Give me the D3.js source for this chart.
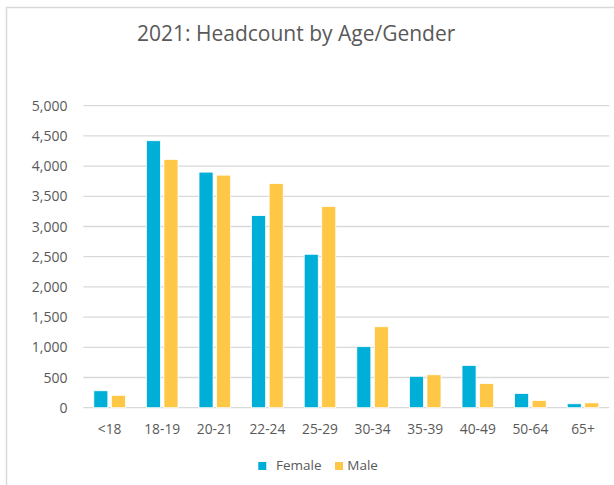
<!DOCTYPE html>
<html>
<head>
<meta charset="utf-8">
<script src="https://cdn.jsdelivr.net/npm/d3@7"></script>
<style>
    body { margin: 0; background: #fff; }
    svg text { font-family: "Open Sans", sans-serif; fill: #595959; }
</style>
</head>
<body>
<svg id="chart" width="614" height="485"></svg>
<script>
// Chart data
const ageGroups = ['<18', '18-19', '20-21', '22-24', '25-29', '30-34', '35-39', '40-49', '50-64', '65+'];
const seriesNames = ['Female', 'Male'];
const femaleCounts = [280, 4420, 3900, 3180, 2540, 1010, 520, 700, 235, 65];
const maleCounts = [205, 4110, 3850, 3710, 3330, 1340, 545, 400, 120, 80];
const yTicks = [0, 500, 1000, 1500, 2000, 2500, 3000, 3500, 4000, 4500, 5000];

const colors = { Female: '#00afd8', Male: '#ffc746' };

const svg = d3.select('#chart');

// frame (only left and top edges visible in the crop)
svg.append('path')
    .attr('d', 'M6.5,485 V7.5 H614')
    .attr('fill', 'none')
    .attr('stroke', '#d9d9d9')
    .attr('stroke-width', 1.5);

// title
svg.append('text')
    .attr('x', 137)
    .attr('y', 41)
    .attr('font-size', '21px')
    .text('2021: Headcount by Age/Gender');

const plotLeft = 83.3, plotRight = 609.3;
const yScale = d3.scaleLinear().domain([0, 5000]).range([407.7, 105.7]);

const x0 = d3.scaleBand()
    .domain(ageGroups)
    .range([plotLeft, plotRight])
    .paddingInner(0.4)
    .paddingOuter(0.2);

const x1 = d3.scaleBand()
    .domain(seriesNames)
    .range([0, x0.bandwidth()])
    .paddingInner(0.2);

// gridlines
svg.append('g')
    .selectAll('line')
    .data(yTicks)
    .enter()
    .append('line')
    .attr('x1', plotLeft)
    .attr('x2', plotRight)
    .attr('y1', d => yScale(d))
    .attr('y2', d => yScale(d))
    .attr('stroke', '#d9d9d9')
    .attr('stroke-width', 1.3);

// y axis labels
const fmt = d3.format(',');
svg.append('g')
    .selectAll('text')
    .data(yTicks)
    .enter()
    .append('text')
    .attr('x', 67.5)
    .attr('y', d => yScale(d))
    .attr('dy', '0.36em')
    .attr('text-anchor', 'end')
    .attr('font-size', '14px')
    .text(d => fmt(d));

// bars
const rows = ageGroups.map((g, i) => ({ group: g, Female: femaleCounts[i], Male: maleCounts[i] }));

const groups = svg.append('g')
    .selectAll('g')
    .data(rows)
    .enter()
    .append('g')
    .attr('transform', d => `translate(${x0(d.group)},0)`);

groups.selectAll('rect')
    .data(d => seriesNames.map(s => ({ key: s, value: d[s] })))
    .enter()
    .append('rect')
    .attr('x', d => x1(d.key))
    .attr('width', x1.bandwidth())
    .attr('y', d => yScale(d.value))
    .attr('height', d => yScale(0) - yScale(d.value))
    .attr('fill', d => colors[d.key])
    .attr('stroke', '#ffffff')
    .attr('stroke-width', 0.75);

// x axis labels
svg.append('g')
    .selectAll('text')
    .data(ageGroups)
    .enter()
    .append('text')
    .attr('x', d => x0(d) + x0.bandwidth() / 2)
    .attr('y', 434)
    .attr('text-anchor', 'middle')
    .attr('font-size', '13.8px')
    .text(d => d);

// legend
const legendItems = [
    { key: 'Female', x: 258.3 },
    { key: 'Male', x: 335 }
];
const legend = svg.append('g')
    .selectAll('g')
    .data(legendItems)
    .enter()
    .append('g')
    .attr('transform', d => `translate(${d.x},462)`);

legend.append('rect')
    .attr('width', 8)
    .attr('height', 8)
    .attr('fill', d => colors[d.key]);

legend.append('text')
    .attr('x', d => d.key === 'Female' ? 17.7 : 12.3)
    .attr('y', 8.3)
    .attr('font-size', '13.5px')
    .text(d => d.key);
</script>
</body>
</html>
